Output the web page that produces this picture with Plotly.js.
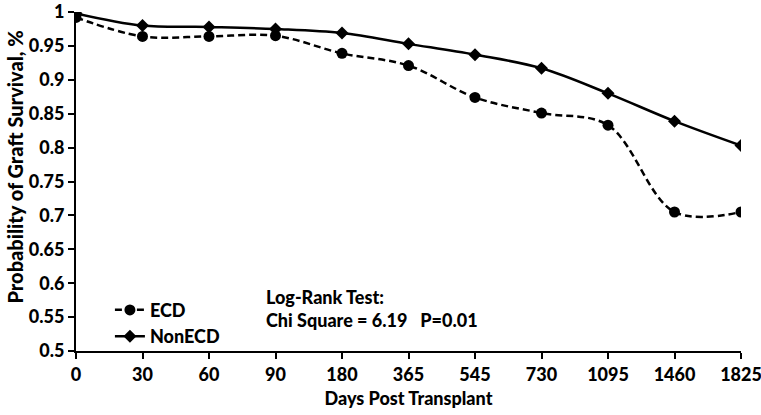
<!DOCTYPE html>
<html>
<head>
<meta charset="utf-8">
<script src="https://cdn.plot.ly/plotly-3.0.1.min.js"></script>
<style>html,body{margin:0;padding:0;background:#fff;}#chart{width:761px;height:415px;}</style>
</head>
<body>
<div id="chart"></div>
<script>
const days = ["0","30","60","90","180","365","545","730","1095","1460","1825"];
const ecd = [0.992,0.964,0.964,0.965,0.939,0.921,0.874,0.851,0.833,0.705,0.705];
const nonEcd = [0.998,0.980,0.978,0.975,0.969,0.953,0.937,0.917,0.880,0.839,0.803];
const yTicks = [0.5,0.55,0.6,0.65,0.7,0.75,0.8,0.85,0.9,0.95,1];

const FONT = "Lato, 'Open Sans', sans-serif";
const FS = 18;
const F = {family: FONT, size: FS, color: "#000", weight: 900};
const FT = {family: FONT, size: 20, color: "#000", weight: 900};
const traces = [
  {x: days, y: ecd, name: "ECD", type: "scatter", mode: "lines+markers",
   line: {color: "#000", width: 2.5, dash: "7px,4px", shape: "spline", smoothing: 1},
   marker: {symbol: "circle", size: 11, color: "#000"}},
  {x: days, y: nonEcd, name: "NonECD", type: "scatter", mode: "lines+markers",
   line: {color: "#000", width: 2.5, shape: "spline", smoothing: 1},
   marker: {symbol: "diamond", size: 10, color: "#000"}}
];
const layout = {
  width: 761, height: 415,
  margin: {l: 76, r: 20, t: 12, b: 64},
  paper_bgcolor: "#fff", plot_bgcolor: "#fff",
  font: F,
  xaxis: {type: "category", range: [0, 10], showgrid: false, zeroline: false,
    showline: true, linecolor: "#000", linewidth: 2, ticks: "outside", ticklen: 6,
    tickwidth: 2, tickcolor: "#000",
    title: {text: "Days Post Transplant", font: F, standoff: 9},
    tickfont: F},
  yaxis: {range: [0.5, 1], tickvals: yTicks, showgrid: false, zeroline: false,
    showline: true, linecolor: "#000", linewidth: 2, ticks: "outside", ticklen: 6,
    tickwidth: 2, tickcolor: "#000", ticklabeloverflow: "allow",
    tickfont: F},
  showlegend: true,
  legend: {x: 0.051, y: 0.175, xanchor: "left", yanchor: "top", bgcolor: "rgba(0,0,0,0)",
    font: F, itemwidth: 30},
  annotations: [
    {xref: "paper", yref: "paper", x: -0.0917, y: 0.541, xanchor: "center", yanchor: "middle",
     textangle: -90, showarrow: false, text: "Probability of Graft Survival, %", font: FT},
    {xref: "paper", yref: "paper", x: 0.282, y: 0.124, xanchor: "left", yanchor: "middle",
     align: "left", showarrow: false,
     text: "Log-Rank Test:<br>Chi Square = 6.19&nbsp;&nbsp;&nbsp;P=0.01",
     font: F}
  ]
};
Plotly.newPlot("chart", traces, layout, {displayModeBar: false, staticPlot: true});
</script>
</body>
</html>
